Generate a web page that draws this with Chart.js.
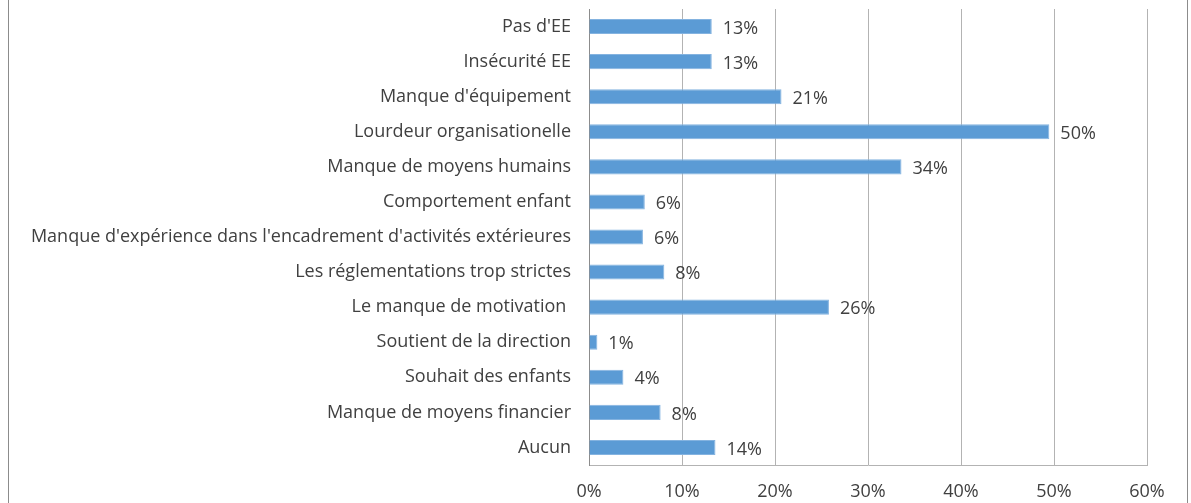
<!DOCTYPE html>
<html>
<head>
<meta charset="utf-8">
<script src="https://cdn.jsdelivr.net/npm/chart.js@4/dist/chart.umd.min.js"></script>
<style>
  html, body { margin: 0; padding: 0; background: #fff; }
  #wrap { position: relative; width: 1191px; height: 503px; overflow: hidden; }
  #frame {
    position: absolute; left: 8px; top: -5px; width: 1180px; height: 520px;
    border: 1px solid #8c8c8c; box-sizing: border-box;
  }
  canvas { position: absolute; left: 0; top: 0; }
</style>
</head>
<body>
<div id="wrap">
  <div id="frame"></div>
  <canvas id="chart" width="1191" height="503"></canvas>
</div>
<script>
const categories = [
  "Pas d'EE",
  'Insécurité EE',
  "Manque d'équipement",
  'Lourdeur organisationelle',
  'Manque de moyens humains',
  'Comportement enfant',
  "Manque d'expérience dans l'encadrement d'activités extérieures",
  'Les réglementations trop strictes',
  'Le manque de motivation ',
  'Soutient de la direction',
  'Souhait des enfants',
  'Manque de moyens financier',
  'Aucun',
];
const shares = [13.2, 13.2, 20.7, 49.5, 33.6, 6.0, 5.8, 8.1, 25.8, 0.9, 3.7, 7.7, 13.6];
const xTicks = [0, 10, 20, 30, 40, 50, 60];

const textColor = '#404040';
const fontFamily = '"Open Sans", sans-serif';
const fontSize = 18;

// value labels to the right of each bar
const barLabels = {
  id: 'barLabels',
  afterDatasetsDraw(chart) {
    const ctx = chart.ctx;
    const meta = chart.getDatasetMeta(0);
    ctx.save();
    ctx.font = fontSize + 'px ' + fontFamily;
    ctx.fillStyle = textColor;
    ctx.textAlign = 'left';
    ctx.textBaseline = 'middle';
    meta.data.forEach((bar, i) => {
      ctx.fillText(Math.round(shares[i]) + '%', bar.x + 11, bar.y + 2);
    });
    ctx.restore();
  }
};

new Chart(document.getElementById('chart').getContext('2d'), {
  type: 'bar',
  data: {
    labels: categories,
    datasets: [{
      data: shares,
      backgroundColor: '#5b9bd5',
      borderColor: '#84b3e0',
      borderWidth: 1,
      borderSkipped: 'left',
      barPercentage: 0.43,
      categoryPercentage: 1,
    }]
  },
  options: {
    indexAxis: 'y',
    responsive: false,
    animation: false,
    devicePixelRatio: 1,
    layout: { padding: { left: 0, right: 44, top: 9, bottom: 0 } },
    plugins: { legend: { display: false }, tooltip: { enabled: false } },
    scales: {
      x: {
        min: 0,
        max: 60,
        afterBuildTicks: scale => { scale.ticks = xTicks.map(v => ({ value: v })); },
        afterFit: scale => { scale.height = 38; scale.paddingLeft = 0; scale.paddingRight = 0; },
        grid: { color: '#b3b3b3', lineWidth: 1, drawTicks: false },
        border: { color: '#b3b3b3' },
        ticks: {
          padding: 16,
          color: textColor,
          font: { family: fontFamily, size: fontSize },
          callback: v => v + '%',
        },
      },
      y: {
        afterFit: scale => { scale.width = 589; scale.paddingTop = 0; scale.paddingBottom = 0; },
        grid: { display: false, drawTicks: false },
        border: { color: '#8c8c8c' },
        ticks: {
          padding: 18,
          color: textColor,
          font: { family: fontFamily, size: fontSize },
          autoSkip: false,
        },
      },
    },
  },
  plugins: [barLabels],
});
</script>
</body>
</html>
